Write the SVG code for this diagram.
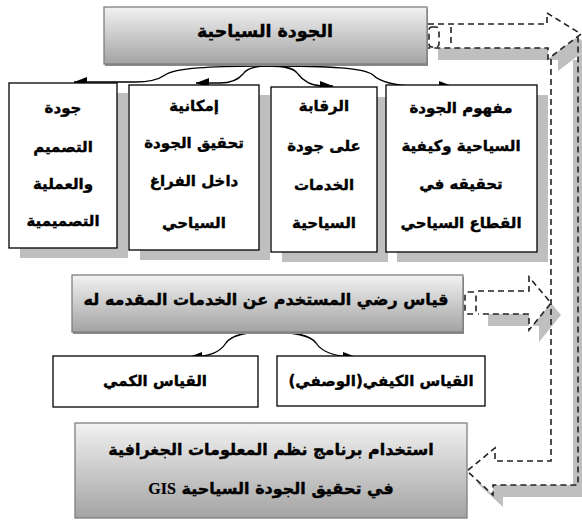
<svg xmlns="http://www.w3.org/2000/svg" width="582" height="520" viewBox="0 0 582 520">
<style>
.t{font-family:"DejaVu Sans","Liberation Sans",sans-serif;font-weight:bold;font-size:15px;fill:#000;stroke:#000;stroke-width:0.4;text-anchor:middle}
.big{font-size:16px}
.lat{font-family:"Liberation Serif",serif;stroke-width:0.2}
.box{fill:#fff;stroke:#000;stroke-width:1.3}
.sh{fill:#bfbfbf}
.gbox{fill:url(#g);stroke:#7f7f7f;stroke-width:1.3}
.dash{fill:none;stroke:#222;stroke-width:1.6;stroke-dasharray:6 4}
.con{fill:none;stroke:#000;stroke-width:1.3;marker-end:url(#ah)}
</style>
<defs>
<linearGradient id="g" x1="0" y1="0" x2="0" y2="1">
<stop offset="0" stop-color="#f2f2f2"/>
<stop offset="1" stop-color="#a3a3a3"/>
</linearGradient>
<marker id="ah" viewBox="0 0 13 10" refX="13" refY="5" markerWidth="13" markerHeight="10" markerUnits="userSpaceOnUse" orient="auto">
<path d="M0,0 L13,5 L0,10 Z" fill="#000"/>
</marker>
</defs>

<g id="flow-arrows">
<path class="sh" d="M561,71 V473 H505 V460 L477,483 L503,507 V497 H588 V48 Z"/>
<path fill="#fff" d="M551,50 V461 H495 V448 L467,471 L493,495 V485 H578 V36 Z"/>
<rect class="sh" x="573" y="60" width="9" height="425"/>
<path class="sh" d="M438,36 H557 V25 L591,46 L558,71 V60 H438 Z"/>
<path fill="#fff" d="M428,24 H547 V13 L581,34 L548,59 V48 H428 Z"/>
<path class="sh" d="M488,303 H539 V289 L561,315 L539,342 V326 H488 Z"/>
<path fill="#fff" d="M478,291 H529 V277 L551,303 L529,330 V314 H478 Z"/>
<path class="dash" d="M428,24 H547 V13 L581,34 L548,59 V48 H428"/>
<path class="dash" d="M551,59 V461 H495 V448 L467,471 L493,495 V485 H578 V37"/>
<rect class="dash" x="429" y="27" width="10" height="20" rx="3"/>
<path class="dash" d="M451,27 V47"/>
<path class="dash" d="M478,291 H529 V277 L551,303 L529,330 V314 H478"/>
<rect class="dash" x="465" y="292" width="11" height="22" rx="3"/>
</g>

<g id="connectors">
<path class="con" d="M268,66 C210,66 175,68 165,75 C158,80 150,82 135,82 H74"/>
<path class="con" d="M268,66 C255,66 247,68 243,74 C238,80 232,83 220,83 H196"/>
<path class="con" d="M268,66 C285,66 294,68 298,74 C303,81 312,86 322,86 H333"/>
<path class="con" d="M268,66 C330,66 365,68 373,75 C380,82 395,86 420,86 H452"/>
<path class="con" d="M268,332 C245,332 232,335 226,343 C220,352 210,357 189,357"/>
<path class="con" d="M268,332 C295,332 310,335 316,343 C322,352 335,357 356,357"/>
</g>

<g id="n-top">
<rect x="105" y="9" width="323" height="57" fill="#8a8a8a"/>
<rect class="gbox" x="104" y="7" width="323" height="57"/>
<text class="t" style="font-size:17.5px" x="265" y="37" direction="rtl">الجودة السياحية</text>
</g>

<g id="n-design">
<rect class="sh" x="20" y="93" width="108" height="165"/>
<rect class="box" x="9" y="83" width="108" height="165"/>
<text class="t" direction="rtl"><tspan x="63" y="113">جودة</tspan><tspan x="63" y="152">التصميم</tspan><tspan x="63" y="189">والعملية</tspan><tspan x="63" y="226">التصميمية</tspan></text>
</g>

<g id="n-space">
<rect class="sh" x="140" y="95" width="130" height="165"/>
<rect class="box" x="129" y="85" width="130" height="165"/>
<text class="t" direction="rtl"><tspan x="194" y="111">إمكانية</tspan><tspan x="194" y="148">تحقيق الجودة</tspan><tspan x="194" y="186">داخل الفراغ</tspan><tspan x="194" y="228">السياحي</tspan></text>
</g>

<g id="n-control">
<rect class="sh" x="282" y="97" width="106" height="165"/>
<rect class="box" x="271" y="87" width="106" height="165"/>
<text class="t" direction="rtl"><tspan x="324" y="111">الرقابة</tspan><tspan x="324" y="151">على جودة</tspan><tspan x="324" y="190">الخدمات</tspan><tspan x="324" y="228">السياحية</tspan></text>
</g>

<g id="n-concept">
<rect class="sh" x="397" y="95" width="151" height="167"/>
<rect class="box" x="386" y="85" width="151" height="167"/>
<text class="t" direction="rtl"><tspan x="461" y="113">مفهوم الجودة</tspan><tspan x="461" y="151">السياحية وكيفية</tspan><tspan x="461" y="189">تحقيقه في</tspan><tspan x="461" y="228">القطاع السياحي</tspan></text>
</g>

<g id="n-satisfaction">
<rect x="73" y="277" width="391" height="57" fill="#8a8a8a"/>
<rect class="gbox" x="72" y="275" width="391" height="57"/>
<text class="t big" x="266" y="305" direction="rtl">قياس رضي المستخدم عن الخدمات المقدمه له</text>
</g>

<g id="n-quant">
<rect class="box" x="53" y="356" width="205" height="51"/>
<text class="t" x="155" y="386" direction="rtl">القياس الكمي</text>
</g>

<g id="n-qual">
<rect class="box" x="277" y="356" width="208" height="50"/>
<text class="t" x="381" y="386" direction="rtl">القياس الكيفي(الوصفي)</text>
</g>

<g id="n-gis">
<rect class="gbox" x="75" y="423" width="392" height="95"/>
<text class="t big" x="271" y="455" direction="rtl">استخدام برنامج نظم المعلومات الجغرافية</text>
<text class="t big" x="271" y="494"><tspan class="lat">GIS</tspan> في تحقيق الجودة السياحية</text>
</g>
</svg>
